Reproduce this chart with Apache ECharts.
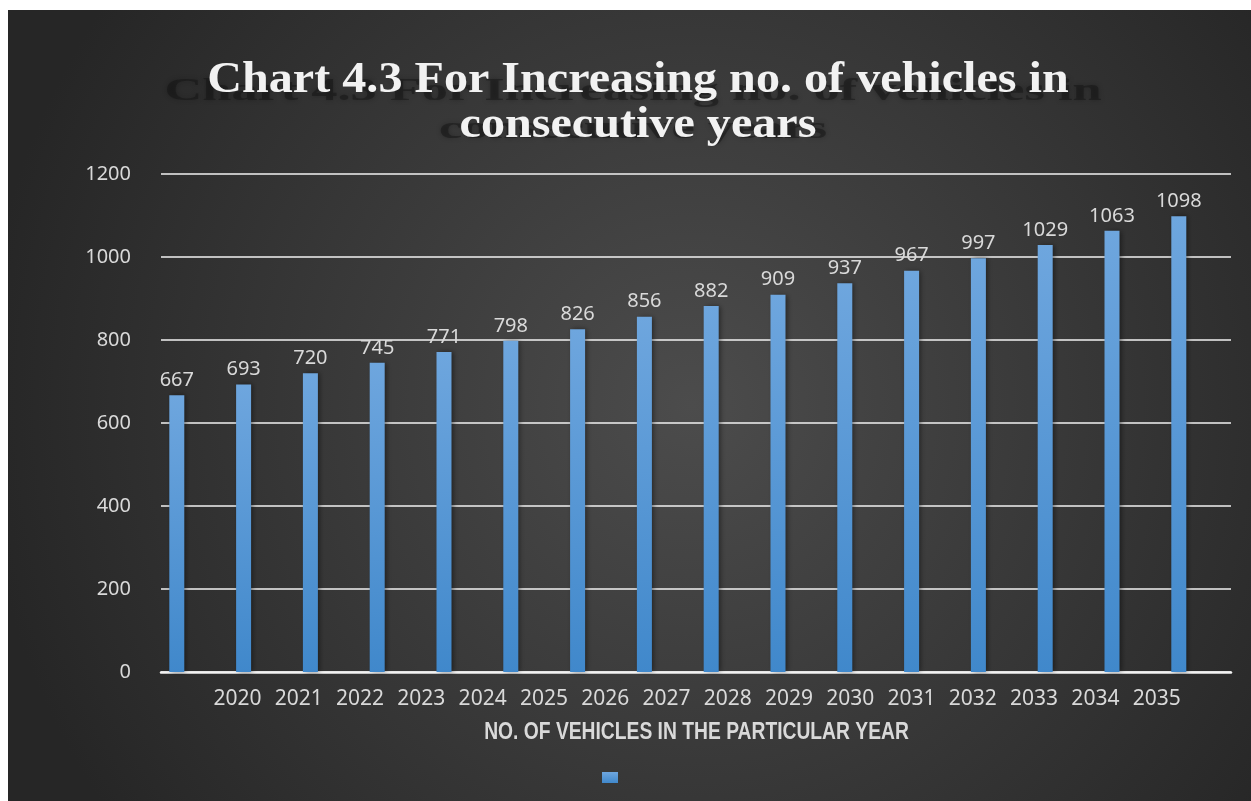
<!DOCTYPE html>
<html>
<head>
<meta charset="utf-8">
<title>Chart 4.3</title>
<script src="https://cdn.jsdelivr.net/npm/echarts@6/dist/echarts.min.js"></script>
<style>
  html, body { margin: 0; padding: 0; background: #ffffff; }
  #chart { position: absolute; left: 8px; top: 10px; width: 1243px; height: 791px; }
</style>
</head>
<body>
<div id="chart"></div>
<script>
// categories (x axis tick labels)
const years = ["2020", "2021", "2022", "2023", "2024", "2025", "2026", "2027",
  "2028", "2029", "2030", "2031", "2032", "2033", "2034", "2035"];
// number of vehicles per year
const vehicles = [667, 693, 720, 745, 771, 798, 826, 856, 882, 909, 937, 967, 997, 1029, 1063, 1098];

const titleText = "Chart 4.3 For Increasing no. of vehicles in\nconsecutive years";
const xName = "NO. OF VEHICLES IN THE PARTICULAR YEAR";

const chart = echarts.init(document.getElementById("chart"));

const labelColor = "#d9d9d9";
const numFont = "'Noto Sans', 'Open Sans', sans-serif";
const serifFont = "'Liberation Serif', 'DejaVu Serif', serif";

// three grids share the same vertical extent:
// 0 = gridlines + y labels, 1 = bars, 2 = year labels
const vTop = 164, vBottom = 129;

const option = {
  backgroundColor: {
    type: "radial",
    x: 0.55, y: 0.5, r: 0.9,
    colorStops: [
      { offset: 0, color: "#4c4c4c" },
      { offset: 1, color: "#262626" }
    ]
  },
  graphic: [
    {
      // blurred shadow text behind the title
      type: "text",
      x: 625, y: 101,
      scaleX: 1.19, scaleY: 0.7,
      z: 0,
      silent: true,
      style: {
        text: titleText,
        x: 0, y: 0,
        align: "center",
        verticalAlign: "middle",
        fontFamily: serifFont,
        fontWeight: "bold",
        fontSize: 44,
        lineHeight: 53,
        fill: "rgba(20,20,20,0.5)",
        textShadowColor: "rgba(0,0,0,0.5)",
        textShadowBlur: 5
      }
    },
    {
      type: "text",
      x: 630, y: 93,
      scaleX: 1.094, scaleY: 1,
      z: 10,
      style: {
        text: titleText,
        x: 0, y: 0,
        align: "center",
        verticalAlign: "middle",
        fontFamily: serifFont,
        fontWeight: "bold",
        fontSize: 44,
        lineHeight: 45,
        fill: "#f2f2f2"
      }
    },
    {
      // x axis title, narrowed to match the condensed face
      type: "text",
      x: 688.5, y: 723,
      scaleX: 0.82, scaleY: 1,
      z: 10,
      style: {
        text: xName,
        x: 0, y: 0,
        align: "center",
        verticalAlign: "middle",
        fontFamily: "'Liberation Sans', Arial, sans-serif",
        fontWeight: "bold",
        fontSize: 23.5,
        fill: labelColor
      }
    }
  ],
  legend: {
    left: 594,
    top: 762,
    padding: 0,
    icon: "rect",
    itemWidth: 16,
    itemHeight: 11,
    selectedMode: false,
    textStyle: { color: labelColor, fontSize: 2 }
  },
  grid: [
    { left: 153, right: 20, top: vTop, bottom: vBottom },
    { left: 135.4, right: 38.8, top: vTop, bottom: vBottom },
    { left: 198.9, right: 63.7, top: vTop, bottom: vBottom }
  ],
  xAxis: [
    {
      gridIndex: 0,
      type: "category",
      data: years,
      axisLine: { show: true, lineStyle: { color: "#f2f2f2", width: 2.5 } },
      axisTick: { show: false },
      axisLabel: { show: false }
    },
    {
      gridIndex: 1,
      type: "category",
      data: years,
      show: false
    },
    {
      gridIndex: 2,
      type: "category",
      data: years,
      axisLine: { show: false },
      axisTick: { show: false },
      axisLabel: {
        color: labelColor,
        fontFamily: numFont,
        fontSize: 21,
        margin: 17,
        interval: 0
      }
    }
  ],
  yAxis: [
    {
      gridIndex: 0,
      type: "value",
      min: 0,
      max: 1200,
      interval: 200,
      axisLine: { show: false },
      axisTick: { show: false },
      axisLabel: {
        color: labelColor,
        fontFamily: numFont,
        fontSize: 20,
        margin: 30,
        formatter: (v) => String(v)
      },
      splitLine: { lineStyle: { color: "#f2f2f2", width: 1.6 } }
    },
    { gridIndex: 1, type: "value", min: 0, max: 1200, show: false, splitLine: { show: false } },
    { gridIndex: 2, type: "value", min: 0, max: 1200, show: false, splitLine: { show: false } }
  ],
  series: [
    {
      name: " ",
      type: "bar",
      xAxisIndex: 1,
      yAxisIndex: 1,
      data: vehicles,
      barWidth: 15,
      itemStyle: {
        color: new echarts.graphic.LinearGradient(0, 0, 0, 1, [
          { offset: 0, color: "#6ea6de" },
          { offset: 1, color: "#4088cb" }
        ]),
        shadowColor: "rgba(0,0,0,0.45)",
        shadowBlur: 5,
        shadowOffsetX: 2
      },
      label: {
        show: true,
        position: "top",
        distance: 5,
        color: labelColor,
        fontFamily: numFont,
        fontSize: 20
      },
      animation: false
    }
  ]
};

chart.setOption(option);
window.addEventListener("resize", () => chart.resize());
</script>
</body>
</html>
